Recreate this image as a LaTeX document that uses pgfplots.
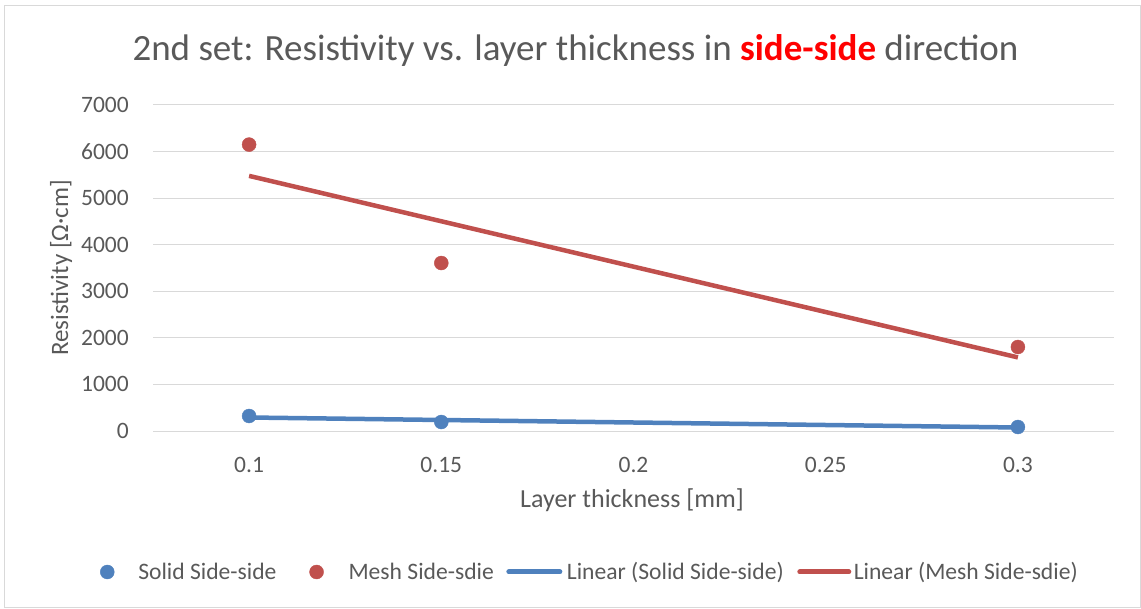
\documentclass[border=0pt]{standalone}
\usepackage{pgfplots}
\pgfplotsset{compat=1.18}
\usepackage{fontspec}
\setmainfont{Carlito}
\definecolor{txt}{HTML}{595959}
\definecolor{sblue}{HTML}{4F81BD}
\definecolor{mred}{HTML}{C0504D}
\definecolor{gridc}{HTML}{D9D9D9}
\definecolor{titlered}{HTML}{FF0000}
\begin{document}
\begin{tikzpicture}
\path[use as bounding box] (0pt,0pt) rectangle (1141pt,608pt);
\draw[gridc, line width=1pt] (4.5pt,0.5pt) rectangle (1140.5pt,602.5pt);
\node[txt, font=\fontsize{37}{44}\selectfont] at (575.5pt,557pt) {2nd set: Resistivity vs. layer thickness in \textcolor{titlered}{\textbf{side-side}} direction};
\node[txt, font=\fontsize{25}{30}\selectfont, rotate=90] at (61pt,340pt) {Resistivity [Ω·cm]};
\node[txt, font=\fontsize{26}{31}\selectfont] at (632pt,108pt) {Layer thickness [mm]};
\begin{axis}[
  at={(153pt,177pt)}, anchor=south west, scale only axis,
  width=961pt, height=326pt,
  xmin=0.075, xmax=0.325, ymin=0, ymax=7000,
  xtick={0.1,0.15,0.2,0.25,0.3},
  xticklabels={0.1,0.15,0.2,0.25,0.3},
  ytick={0,1000,...,7000},
  /pgf/number format/1000 sep={},
  ymajorgrids, grid style={gridc, line width=1pt},
  axis line style={draw=none},
  major tick length=0pt,
  tick label style={txt, font=\fontsize{23.5}{28}\selectfont},
  /pgf/number format/assume math mode=true,
  yticklabel style={inner sep=0pt, xshift=-24pt},
  xticklabel style={inner sep=0pt, yshift=-26pt},
  legend columns=4,
  legend style={draw=none, fill=none, at={(-0.0613,-0.4325)}, anchor=west,
    font=\fontsize{23.6}{28}\selectfont, text=txt,
    nodes={inner sep=0pt}, column sep=0pt},
  legend cell align=left,
  clip=false,
]
\addplot[only marks, mark=*, mark size=7pt, sblue, mark options={draw=sblue, fill=sblue},
  legend image code/.code={\path[draw=none] (0pt,0pt) -- (41pt,0pt); \fill[sblue] (10pt,0pt) circle (7pt);}]
  coordinates {(0.1,322) (0.15,193) (0.3,86)};
\addlegendentry{Solid Side-side}
\addplot[only marks, mark=*, mark size=7pt, mred, mark options={draw=mred, fill=mred},
  legend image code/.code={\path[draw=none] (0pt,0pt) -- (72pt,0pt); \fill[mred] (40pt,0pt) circle (7pt);}]
  coordinates {(0.1,6150) (0.15,3607) (0.3,1804)};
\addlegendentry{Mesh Side-sdie}
\addplot[no marks, sblue, line width=4.5pt,
  legend image code/.code={\path[draw=none] (0pt,0pt) -- (73pt,0pt); \draw[sblue, line width=5pt, line cap=round] (15pt,0pt) -- (66pt,0pt);}]
  coordinates {(0.1,290) (0.3,75)};
\addlegendentry{Linear (Solid Side-side)}
\addplot[no marks, mred, line width=4.5pt,
  legend image code/.code={\path[draw=none] (0pt,0pt) -- (70pt,0pt); \draw[mred, line width=5pt, line cap=round] (16pt,0pt) -- (65pt,0pt);}]
  coordinates {(0.1,5478) (0.3,1580)};
\addlegendentry{Linear (Mesh Side-sdie)}
\end{axis}
\end{tikzpicture}
\end{document}
